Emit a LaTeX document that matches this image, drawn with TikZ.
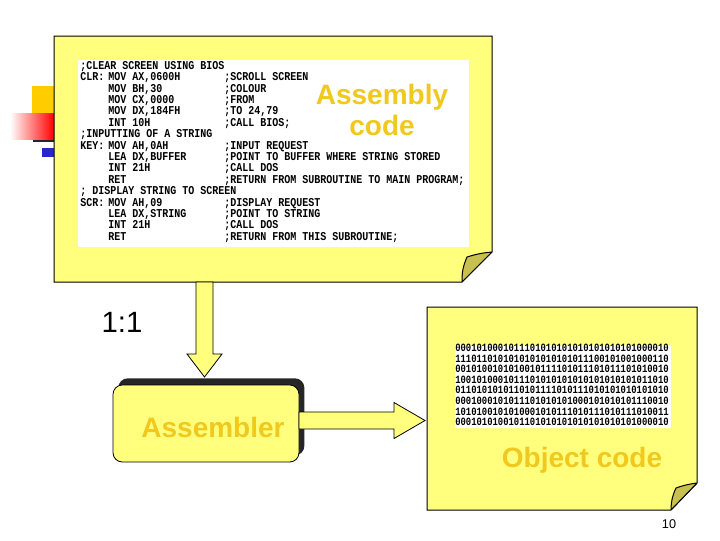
\documentclass[tikz,border=0pt]{standalone}
\usepackage{fontspec}
\setmainfont{Liberation Sans}
\setmonofont{Liberation Mono}
\usetikzlibrary{calc,shadows}
\definecolor{note}{RGB}{255,255,125}
\definecolor{label}{RGB}{240,200,30}
\definecolor{curl}{RGB}{200,192,80}
\definecolor{deco}{RGB}{255,204,0}
\definecolor{decoblue}{RGB}{40,40,200}
\tikzset{
	paper/.style={draw=black, line width=0.75pt, fill=note},
	fold/.style={draw=black, line width=0.75pt, fill=curl, line join=round},
	blockarrow/.style={draw=black, line width=0.6pt, fill=note, line join=miter},
	lbl/.style={text=label, font=\bfseries\fontsize{21}{25}\selectfont, align=center},
}

\begin{document}
\begin{tikzpicture}[x=0.75pt,y=-0.75pt]
		\useasboundingbox (0,0) rectangle (720,540);
		\node [] (0) at (54, 36) {};
		\node [] (1) at (492, 36) {};
		\node [] (2) at (492, 252) {};
		\node [] (3) at (462, 282) {};
		\node [] (4) at (54, 282) {};
		\node [] (5) at (467, 257) {};
		\node [] (7) at (204.5, 282) {};
		\node [] (8) at (204.5, 377) {};
		\node [] (9) at (299, 420.5) {};
		\node [] (10) at (425, 420.5) {};
		\node [] (13) at (427, 307) {};
		\node [] (14) at (697, 307) {};
		\node [] (15) at (697, 483) {};
		\node [] (16) at (671, 510) {};
		\node [] (17) at (427, 510) {};
		\node [] (18) at (676, 488) {};

		\fill [deco] (32, 86) rectangle (54, 113);
		\shade [left color=white, right color=red] (10, 113) rectangle (54, 139);
		\draw [black!85, line width=1.6pt] (33, 141) to (54, 141);
		\fill [decoblue] (42, 148) rectangle (54, 157);

		\draw [paper] (0.center) to (1.center) to (2.center) to (3.center) to (4.center) to cycle;
		\fill [white] (78, 60) rectangle (469, 247);
		\draw [fold] (3.center) to [bend left=12] (5.center) to [bend left=6] (2.center) to (3.center);
		\node [anchor=north west, inner sep=0, font=\ttfamily\bfseries\fontsize{7.5}{7.04}\selectfont] (6) at (80, 61) {%
			\scalebox{1}[1.2]{\begin{tabular}{@{}p{21pt}@{}p{87pt}@{}l@{}}
			\multicolumn{3}{@{}l@{}}{;CLEAR SCREEN USING BIOS}\\
			CLR: & MOV AX,0600H & ;SCROLL SCREEN\\
			& MOV BH,30 & ;COLOUR\\
			& MOV CX,0000 & ;FROM\\
			& MOV DX,184FH & ;TO 24,79\\
			& INT 10H & ;CALL BIOS;\\
			\multicolumn{3}{@{}l@{}}{;INPUTTING OF A STRING}\\
			KEY: & MOV AH,0AH & ;INPUT REQUEST\\
			& LEA DX,BUFFER & ;POINT TO BUFFER WHERE STRING STORED\\
			& INT 21H & ;CALL DOS\\
			& RET & ;RETURN FROM SUBROUTINE TO MAIN PROGRAM;\\
			\multicolumn{3}{@{}l@{}}{; DISPLAY STRING TO SCREEN}\\
			SCR: & MOV AH,09 & ;DISPLAY REQUEST\\
			& LEA DX,STRING & ;POINT TO STRING\\
			& INT 21H & ;CALL DOS\\
			& RET & ;RETURN FROM THIS SUBROUTINE;
			\end{tabular}}};
		\node [lbl] at (382, 110) {Assembly\\[-2pt]code};

		\draw [blockarrow] ($(7)+(-8.5,0)$) to ($(7)+(8.5,0)$) to ($(8)+(8.5,-23)$) to ($(8)+(17.5,-23)$) to (8.center) to ($(8)+(-17.5,-23)$) to ($(8)+(-8.5,-23)$) to cycle;
		\node [font=\fontsize{22}{26}\selectfont] at (122, 322) {1:1};

		\node [draw=black, line width=0.6pt, fill=note, rounded corners=7pt, minimum width=139.5pt, minimum height=57.75pt,
			drop shadow={shadow xshift=4pt, shadow yshift=5pt, opacity=1, fill=black!85}] (11) at (206, 423.5) {};
		\node [lbl] (12) at (213, 427) {Assembler};

		\draw [blockarrow] ($(9)+(0,-8.5)$) to ($(10)+(-31,-8.5)$) to ($(10)+(-31,-18)$) to (10.center) to ($(10)+(-31,18)$) to ($(10)+(-31,8.5)$) to ($(9)+(0,8.5)$) to cycle;

		\draw [paper] (13.center) to (14.center) to (15.center) to (16.center) to (17.center) to cycle;
		\fill [white] (455, 345) rectangle (671, 428);
		\draw [fold] (16.center) to [bend left=12] (18.center) to [bend left=6] (15.center) to (16.center);
		\node [font=\ttfamily\bfseries\fontsize{6.67}{6.24}\selectfont, align=center, inner sep=0] (19) at (562, 386.5) {%
			\scalebox{1}[1.25]{\begin{tabular}{@{}c@{}}
			0001010001011101010101010101010101000010\\
			1110110101010101010101011100101001000110\\
			0010100101010010111101011101011101010010\\
			1001010001011101010101010101010101011010\\
			0110101010110101111010111010101010101010\\
			0001000101011101010101000101010101110010\\
			1010100101010001010111010111010111010011\\
			0001010100101101010101010101010101000010
			\end{tabular}}};
		\node [lbl] (20) at (582, 460) {Object code};

		\node [font=\fontsize{9.5}{11}\selectfont] (21) at (669, 524) {10};
\end{tikzpicture}
\end{document}
